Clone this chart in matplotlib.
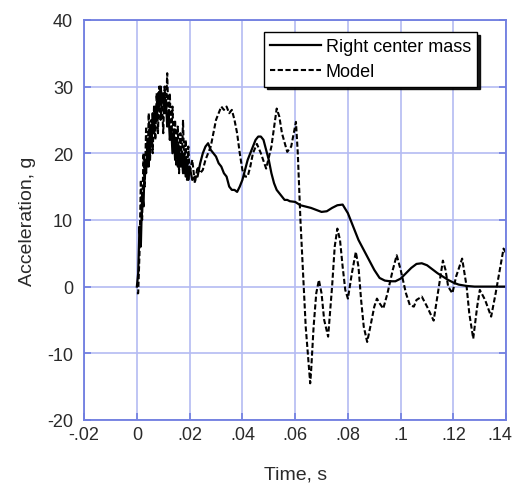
import numpy as np
import matplotlib.pyplot as plt
import matplotlib.transforms as mtransforms
from matplotlib.ticker import FixedLocator

plt.rcParams['font.family'] = ['Liberation Sans', 'DejaVu Sans']
plt.rcParams['axes.unicode_minus'] = False

# Right center mass (solid)
t_mass = [0.0, 0.0005, 0.001, 0.0015, 0.002, 0.0025, 0.003, 0.0035, 0.004, 0.0045,
          0.005, 0.0055, 0.006, 0.0065, 0.007, 0.0075, 0.008, 0.0085, 0.009, 0.0095,
          0.010, 0.0105, 0.011, 0.0115, 0.012, 0.0125, 0.013, 0.0135, 0.014, 0.0145,
          0.015, 0.0155, 0.016, 0.0165, 0.017, 0.0175, 0.018, 0.0185, 0.019, 0.0195,
          0.020, 0.021, 0.022, 0.023, 0.024, 0.025, 0.026, 0.027, 0.028, 0.029,
          0.030, 0.031, 0.032, 0.033, 0.034, 0.035, 0.036, 0.037, 0.038, 0.039,
          0.040, 0.041, 0.042, 0.043, 0.044, 0.045, 0.046, 0.047, 0.048, 0.049,
          0.050, 0.051, 0.052, 0.053, 0.054, 0.055, 0.056, 0.057, 0.058, 0.060,
          0.062, 0.064, 0.066, 0.068, 0.070, 0.072, 0.074, 0.076, 0.078, 0.080,
          0.082, 0.084, 0.086, 0.088, 0.090, 0.092, 0.094, 0.096, 0.098, 0.100,
          0.102, 0.104, 0.106, 0.108, 0.110, 0.112, 0.114, 0.116, 0.118, 0.120,
          0.122, 0.125, 0.128, 0.132, 0.136, 0.140]
a_mass = [0, 2, 9, 6, 14, 12, 19, 17, 22, 18,
          24, 21, 26, 23, 27, 25, 29, 27, 30, 28,
          29, 26, 28, 24, 26, 22, 24, 20, 23, 19,
          22, 18, 21, 18, 20, 17, 20, 16.5, 19, 16,
          18, 16, 16.5, 16.5, 18.5, 20, 21, 21.5, 20.5, 20,
          19.5, 18.5, 18, 17, 16.5, 15, 14.5, 14.5, 14.2, 15,
          16, 17.5, 19, 20, 21, 22, 22.5, 22.5, 22, 20.5,
          19, 17, 15.5, 14.5, 14, 13.5, 13, 13, 12.8, 12.7,
          12.2, 12, 11.8, 11.5, 11.2, 11.3, 11.8, 12.2, 12.3, 11,
          9, 7, 5.5, 4, 2.5, 1.3, 0.9, 0.8, 0.8, 1.2,
          2, 2.8, 3.4, 3.5, 3.2, 2.6, 2, 1.5, 1, 0.6,
          0.3, 0.1, 0, 0, 0, 0]

# Model (dashed)
t_model = [0.0, 0.0005, 0.001, 0.0015, 0.002, 0.0025, 0.003, 0.0035, 0.004, 0.0045,
           0.005, 0.0055, 0.006, 0.0065, 0.007, 0.0075, 0.008, 0.0085, 0.009, 0.0095,
           0.010, 0.0105, 0.011, 0.0115, 0.012, 0.0125, 0.013, 0.0135, 0.014, 0.0145,
           0.015, 0.0155, 0.016, 0.0165, 0.017, 0.0175, 0.018, 0.0185, 0.019, 0.0195,
           0.020, 0.021, 0.022, 0.023, 0.024, 0.025, 0.026, 0.027, 0.028, 0.029,
           0.030, 0.031, 0.032, 0.033, 0.034, 0.035, 0.036, 0.037, 0.038, 0.039,
           0.040, 0.041, 0.042, 0.043, 0.044, 0.0455, 0.047, 0.049, 0.051, 0.053,
           0.054, 0.055, 0.057, 0.0585, 0.0603, 0.061, 0.062, 0.063, 0.064, 0.065,
           0.0657, 0.066, 0.067, 0.068, 0.069, 0.070, 0.071, 0.0725, 0.074, 0.075,
           0.076, 0.077, 0.078, 0.079, 0.080, 0.0815, 0.083, 0.084, 0.085, 0.086,
           0.0873, 0.0885, 0.090, 0.091, 0.092, 0.0934, 0.095, 0.097, 0.0985, 0.100,
           0.102, 0.1035, 0.105, 0.106, 0.108, 0.110, 0.1125, 0.1145, 0.116, 0.117,
           0.118, 0.1196, 0.121, 0.1233, 0.125, 0.126, 0.1275, 0.129, 0.130, 0.132,
           0.1343, 0.136, 0.138, 0.139, 0.140]
a_model = [-1, -1, 5, 16, 10, 20, 15, 24, 18, 26,
           19, 25, 20, 27, 22, 29, 23, 30, 25, 28,
           23, 30, 26, 32, 25, 29, 22, 27, 21, 25,
           18, 24, 17, 23, 18, 25, 17, 22, 16, 21,
           17, 19, 15.5, 18, 17, 17.5, 19, 20, 21, 23,
           25, 26, 27, 26.5, 27, 26, 26.5, 25, 23, 20,
           17.5, 16.5, 16.5, 18, 20, 21.4, 20, 17.7, 21, 26.7,
           25.5, 23, 20.2, 21, 24.7, 20, 10, 2, -6, -11,
           -14.5, -13, -6, -1, 1, -1, -5, -7.5, 0, 6,
           8.7, 7, 3, -0.5, -1.8, 2, 5.2, 3, -2, -6,
           -8.3, -6, -3, -1.8, -2.5, -3.3, -1, 2.5, 4.7, 2.5,
           -1, -2.8, -3, -2, -1.5, -3, -5.1, 0, 3.9, 2.5,
           0, -1, 1.5, 4.2, 0, -4, -7.8, -3, -0.5, -2,
           -4.5, -1, 3.5, 5.7, 5]

x_ticks = [-0.02, 0, 0.02, 0.04, 0.06, 0.08, 0.1, 0.12, 0.14]
x_labels = ['-.02', '0', '.02', '.04', '.06', '.08', '.1', '.12', '.14']
y_ticks = [-20, -10, 0, 10, 20, 30, 40]

grid_col = '#b4bbf2'
spine_col = '#6f7de0'

fig = plt.figure(figsize=(5.16, 4.85), dpi=100)
ax = fig.add_axes([0.163, 0.132, 0.818, 0.825])

ax.plot(t_mass, a_mass, color='black', lw=1.6, label='Right center mass')
ax.plot(t_model, a_model, color='black', lw=1.5, ls=(0, (2.5, 1.2)), label='Model')

ax.set_xlim(-0.02, 0.14)
ax.set_ylim(-20, 40)
ax.xaxis.set_major_locator(FixedLocator(x_ticks))
ax.set_xticklabels(x_labels)
ax.yaxis.set_major_locator(FixedLocator(y_ticks))

ax.grid(True, color=grid_col, lw=1.2)
ax.set_axisbelow(True)
for s in ax.spines.values():
    s.set_color(spine_col)
    s.set_linewidth(1.3)
ax.tick_params(axis='both', direction='in', color=spine_col, labelsize=13,
               labelcolor='#2a2a2a', right=True, top=False, length=5, width=1.2)
ax.tick_params(axis='y', pad=8)
ax.tick_params(axis='x', pad=4.5)

# nudge the last x label so it stays inside the figure
last = ax.get_xticklabels()[-1]
last.set_transform(last.get_transform() + mtransforms.ScaledTranslation(-6/100, 0, fig.dpi_scale_trans))

ax.set_xlabel('Time, s', fontsize=14, labelpad=16, color='#2a2a2a')
ax.set_ylabel('Acceleration, g', fontsize=14, labelpad=8, color='#2a2a2a')

leg = ax.legend(loc='upper right', bbox_to_anchor=(0.931, 0.97), fontsize=13,
                frameon=True, fancybox=False, shadow={'color': 'black', 'alpha': 0.9},
                handlelength=2.8, handletextpad=0.25, borderpad=0.35, labelspacing=0.45,
                borderaxespad=0)
leg.get_frame().set_edgecolor('black')
leg.get_frame().set_linewidth(1.0)

fig.savefig('out.png', dpi=100)
